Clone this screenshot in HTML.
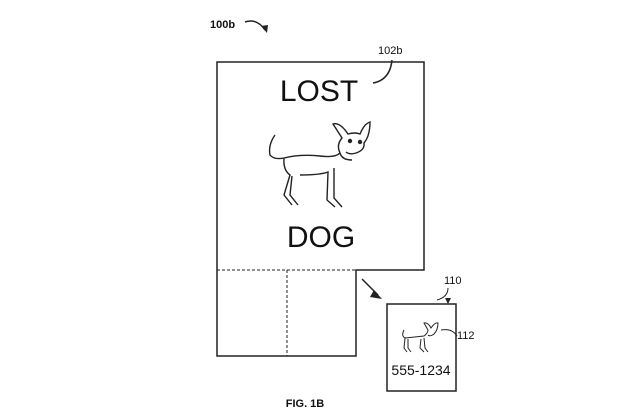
<!DOCTYPE html>
<html><head><style>
body{margin:0;background:#fff;}
svg{display:block;}
text{font-family:"Liberation Sans",Arial,sans-serif;fill:#111;}
</style></head><body>
<svg width="640" height="415" viewBox="0 0 640 415" xmlns="http://www.w3.org/2000/svg">
<g fill="none" stroke="#222" stroke-width="1.5">
<path d="M217 62 H424 V270 H356 V356 H217 Z"/>
<path d="M217 270 H356 M287 270 V356" stroke-dasharray="3,2" stroke-width="1"/>
<rect x="387" y="304" width="69" height="87"/>
<path d="M362 279 L378 295"/>
<path d="M245 22 Q257 18 265 30"/>
<path d="M373 83 Q390 80 392 60"/>
<path d="M437 300 Q448 297 448 288" stroke-width="1"/>
<path d="M441 330 Q452 328 457 336" stroke-width="1"/>
</g>
<path d="M374 290 L382 299 L370 297 Z" fill="#222"/>
<path d="M261 26 L267 33 L268 25 Z" fill="#222"/>
<path d="M445 298 L448 304 L451 298 Z" fill="#222"/>
<text x="210" y="28" font-size="11" font-weight="bold">100b</text>
<text x="378" y="54" font-size="11">102b</text>
<text x="319" y="101" font-size="30" text-anchor="middle">LOST</text>
<text x="321" y="247" font-size="30" text-anchor="middle">DOG</text>
<text x="444" y="284" font-size="11">110</text>
<text x="457" y="339" font-size="11">112</text>
<text x="421" y="375" font-size="14" text-anchor="middle">555-1234</text>
<text x="305" y="407" font-size="11" font-weight="bold" text-anchor="middle">FIG. 1B</text>
<g fill="none" stroke="#222" stroke-width="1.4">
<path d="M275 135 Q268 145 270 155 Q274 160 284 158 Q300 154 320 156 Q335 158 340 153"/>
<path d="M340 153 Q336 145 342 138 L333 124 Q340 122 348 134 Q355 132 360 134 Q364 124 370 122 Q370 136 364 143 Q365 150 356 153 Q350 155 346 152"/>
<path d="M340 153 Q342 160 352 160"/>
<path d="M284 158 Q283 170 290 175 L284 195 L292 205 M292 176 L290 195 L298 205"/>
<path d="M300 175 Q320 175 328 172 L327 200 L335 207 M334 168 L334 198 L342 207"/>
<circle cx="350" cy="141" r="1.5" fill="#222"/><circle cx="360" cy="142" r="1.5" fill="#222"/>
</g>
<g fill="none" stroke="#222" stroke-width="1">
<path d="M404 330 Q401 336 405 338 Q415 337 424 336 Q428 333 428 330 L424 323 Q428 322 431 328 Q435 322 438 323 Q438 330 434 334 Q430 337 428 335"/>
<path d="M405 338 L404 348 L407 352 M408 339 L408 348 L411 352 M421 339 L420 348 L424 352 M424 338 L425 348 L428 352"/>
</g>
</svg>
</body></html>
